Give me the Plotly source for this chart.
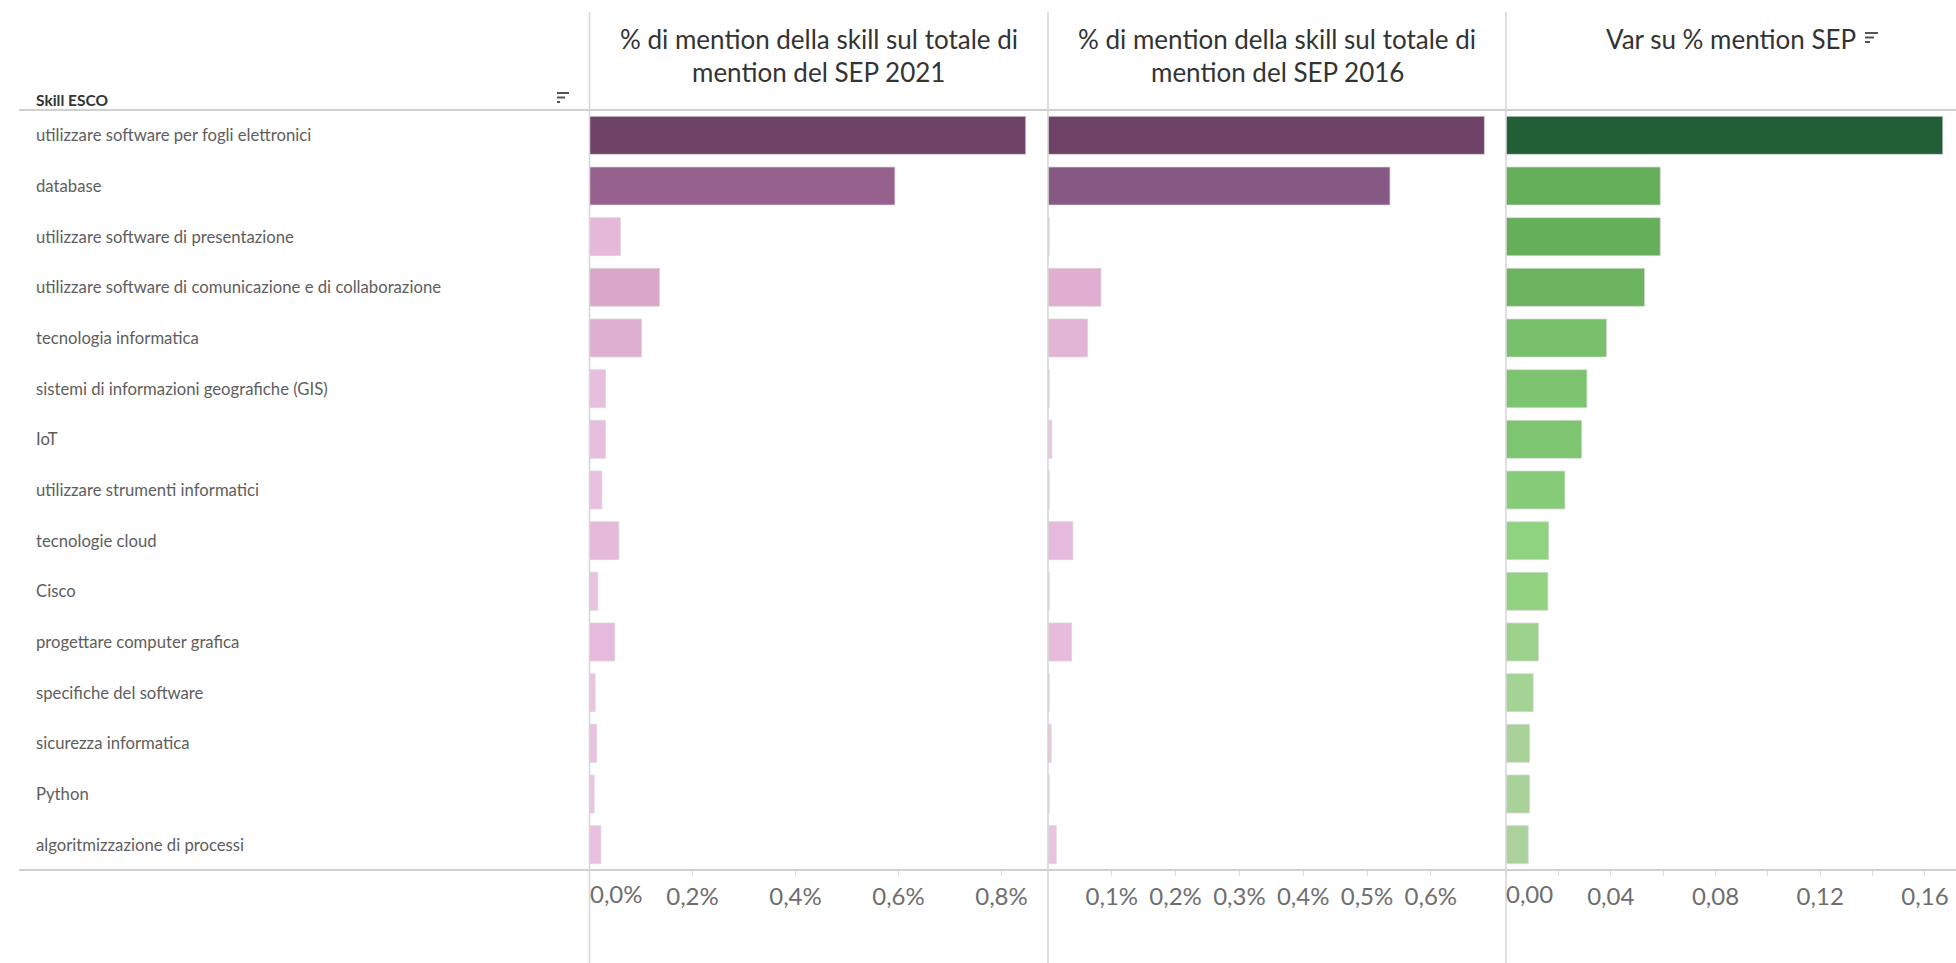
import plotly.graph_objects as go

W, H = 1956, 963

# Skill names (top to bottom)
skills = [
    "utilizzare software per fogli elettronici",
    "database",
    "utilizzare software di presentazione",
    "utilizzare software di comunicazione e di collaborazione",
    "tecnologia informatica",
    "sistemi di informazioni geografiche (GIS)",
    "IoT",
    "utilizzare strumenti informatici",
    "tecnologie cloud",
    "Cisco",
    "progettare computer grafica",
    "specifiche del software",
    "sicurezza informatica",
    "Python",
    "algoritmizzazione di processi",
]

# % of mentions of the skill over all SEP mentions, 2021 (percent units)
share_2021 = [0.847, 0.593, 0.060, 0.136, 0.101, 0.031, 0.031, 0.024,
              0.057, 0.016, 0.049, 0.011, 0.014, 0.009, 0.022]
# same measure, 2016 (percent units)
share_2016 = [0.684, 0.536, 0.002, 0.083, 0.062, 0.002, 0.006, 0.002,
              0.039, 0.002, 0.037, 0.002, 0.005, 0.002, 0.013]
# variation of the share (percentage points)
var_share = [0.1668, 0.0589, 0.0589, 0.0529, 0.0384, 0.0309, 0.0289, 0.0225,
             0.0163, 0.0160, 0.0124, 0.0104, 0.0090, 0.0090, 0.0085]

# Column headers
header_2021 = ["% di mention della skill sul totale di", "mention del SEP 2021"]
header_2016 = ["% di mention della skill sul totale di", "mention del SEP 2016"]
header_var = "Var su % mention SEP"
row_header = "Skill ESCO"

# Tick values per panel
ticks_2021 = [0.2, 0.4, 0.6, 0.8]
ticks_2016 = [0.1, 0.2, 0.3, 0.4, 0.5, 0.6]
ticks_var = [0.04, 0.08, 0.12, 0.16]

FONT = "Lato, 'Open Sans', sans-serif"

purple_scale = [
    [0.0, "#EBC5E3"], [0.07, "#E5B8DA"], [0.16, "#DAA7CA"],
    [0.70, "#97618E"], [0.78, "#875A87"], [1.0, "#6F4268"],
]
green_scale = [
    [0.0, "#B5D5A6"], [0.05, "#ABD29D"], [0.06, "#A6D396"], [0.075, "#9CD28B"],
    [0.095, "#90D27F"], [0.13, "#88CD7A"], [0.18, "#7DC470"], [0.23, "#78C06C"],
    [0.32, "#6BB35E"], [0.35, "#66AF5A"], [1.0, "#225F37"],
]


def it_num(v, dec, suffix=""):
    """Italian-style number: decimal comma."""
    return f"{v:.{dec}f}".replace(".", ",") + suffix


def px(x):
    return x / W


def py(y):
    return 1 - y / H


# panel boundaries in pixels
P1L, P1R = 589.5, 1048
P2L, P2R = 1048, 1506
P3L, P3R = 1506, W
TOP, BOTTOM = 110, 870

fig = go.Figure()

bar_line = dict(color="rgba(215,215,215,0.7)", width=1)

fig.add_trace(go.Bar(
    y=skills, x=share_2021, orientation="h", xaxis="x", yaxis="y",
    width=0.75,
    marker=dict(color=share_2021, colorscale=purple_scale, cmin=0,
                cmax=max(share_2021), line=bar_line),
    hovertemplate="%{y}: %{x:.3f}%<extra></extra>",
))
fig.add_trace(go.Bar(
    y=skills, x=share_2016, orientation="h", xaxis="x2", yaxis="y",
    width=0.75,
    marker=dict(color=share_2016, colorscale=purple_scale, cmin=0,
                cmax=max(share_2016), line=bar_line),
    hovertemplate="%{y}: %{x:.3f}%<extra></extra>",
))
fig.add_trace(go.Bar(
    y=skills, x=var_share, orientation="h", xaxis="x3", yaxis="y",
    width=0.75,
    marker=dict(color=var_share, colorscale=green_scale, cmin=0,
                cmax=max(var_share), line=bar_line),
    hovertemplate="%{y}: %{x:.4f}<extra></extra>",
))

tick_font = dict(family=FONT, size=24, color="#6e6e6e")
axis_common = dict(
    showgrid=False, zeroline=False, showline=False,
    ticks="outside", ticklen=5, tickcolor="#dcdcdc", tickwidth=1,
    tickfont=tick_font, tickangle=0, fixedrange=True, anchor="y",
    tickmode="array",
)

fig.update_layout(
    width=W, height=H,
    margin=dict(l=0, r=0, t=0, b=0),
    paper_bgcolor="white", plot_bgcolor="white",
    showlegend=False,
    bargap=0.25,
    font=dict(family=FONT),
    xaxis=dict(domain=[px(P1L), px(P1R)], range=[0, (P1R - P1L) / 515],
               tickvals=ticks_2021,
               ticktext=[it_num(v, 1, "%") for v in ticks_2021],
               **axis_common),
    xaxis2=dict(domain=[px(P2L), px(P2R)], range=[0, (P2R - P2L) / 638],
                tickvals=ticks_2016,
                ticktext=[it_num(v, 1, "%") for v in ticks_2016],
                **axis_common),
    xaxis3=dict(domain=[px(P3L), px(P3R)], range=[0, (P3R - P3L) / 2618.6],
                tickvals=ticks_var,
                ticktext=[it_num(v, 2) for v in ticks_var],
                minor=dict(tickmode="linear", tick0=0, dtick=0.02,
                           ticks="outside", ticklen=5, tickcolor="#dcdcdc"),
                **axis_common),
    yaxis=dict(domain=[py(BOTTOM), py(TOP)], autorange="reversed",
               showticklabels=False, showgrid=False, zeroline=False,
               showline=False, ticks="", fixedrange=True),
)

annotations = []

# row labels, left aligned
for s in skills:
    annotations.append(dict(
        x=px(34), xref="paper", xanchor="left", y=s, yref="y",
        yanchor="middle", text=s, showarrow=False,
        font=dict(family=FONT, size=16.7, color="#5e5e5e"),
    ))

annotations.append(dict(
    x=px(34), xref="paper", xanchor="left", y=py(100), yref="paper",
    yanchor="middle", text="<b>" + row_header + "</b>", showarrow=False,
    font=dict(family=FONT, size=15.5, color="#333333"),
))

head_font = dict(family=FONT, size=26, color="#333333")
for (l, r), lines in [((P1L, P1R), header_2021), ((P2L, P2R), header_2016)]:
    for line, yy in zip(lines, [39, 72]):
        annotations.append(dict(
            x=px((l + r) / 2), xref="paper", xanchor="center",
            y=py(yy), yref="paper", yanchor="middle", text=line,
            showarrow=False, font=head_font,
        ))
annotations.append(dict(
    x=px(1858), xref="paper", xanchor="right", y=py(39), yref="paper",
    yanchor="middle", text=header_var, showarrow=False, font=head_font,
))

# zero labels sit flush with the panel start
for ax, lab in [("x", it_num(0, 1, "%")), ("x3", it_num(0, 2))]:
    annotations.append(dict(
        x=0, xref=ax, xanchor="left", y=py(893), yref="paper",
        yanchor="middle", text=lab, showarrow=False, font=tick_font,
        xshift=-2,
    ))

fig.update_layout(annotations=annotations)

grid = dict(color="#d6d6d6", width=1.5)
shapes = [
    dict(type="line", xref="paper", yref="paper", x0=px(19), x1=1,
         y0=py(TOP), y1=py(TOP), line=dict(color="#d0d0d0", width=2)),
    dict(type="line", xref="paper", yref="paper", x0=px(19), x1=1,
         y0=py(BOTTOM), y1=py(BOTTOM), line=dict(color="#d0d0d0", width=2)),
]
for xv in (P1L, P2L, P3L):
    shapes.append(dict(type="line", xref="paper", yref="paper",
                       x0=px(xv), x1=px(xv), y0=py(12), y1=0, line=grid))


def sort_icon(x0, y0, lens, gap):
    out = []
    for i, ln in enumerate(lens):
        yy = y0 + i * gap
        out.append(dict(type="line", xref="paper", yref="paper",
                        x0=px(x0), x1=px(x0 + ln), y0=py(yy), y1=py(yy),
                        line=dict(color="#555555", width=2)))
    return out


shapes += sort_icon(557, 93, [12, 8, 3], 4.5)
shapes += sort_icon(1865, 33, [13, 9, 5], 4.5)

fig.update_layout(shapes=shapes)

fig.write_html("out.html")
